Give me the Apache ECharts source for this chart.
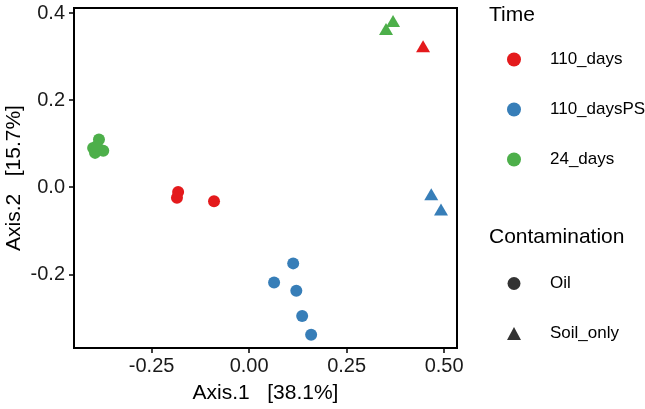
<!DOCTYPE html>
<html><head><meta charset="utf-8">
<script src="https://cdn.jsdelivr.net/npm/echarts@6/dist/echarts.min.js"></script>
<style>html,body{margin:0;padding:0;background:#fff}#c{width:645px;height:409px}</style>
</head><body><div id="c"></div>
<script>
// Points: [Axis.1, Axis.2]
const days110_oil = [[-0.182, -0.011], [-0.185, -0.024], [-0.090, -0.032]];
const days110_soil = [[0.446, 0.324]];
const days110PS_oil = [[0.113, -0.175], [0.064, -0.219], [0.121, -0.238], [0.136, -0.296], [0.159, -0.339]];
const days110PS_soil = [[0.467, -0.016], [0.492, -0.051]];
const days24_oil = [[-0.385, 0.110], [-0.400, 0.090], [-0.374, 0.084], [-0.395, 0.079], [-0.390, 0.095]];
const days24_soil = [[0.369, 0.382], [0.351, 0.364]];
const timeNames = ['110_days', '110_daysPS', '24_days'];
const contamNames = ['Oil', 'Soil_only'];
const xTicks = [-0.25, 0, 0.25, 0.5];
const yTicks = [-0.2, 0, 0.2, 0.4];
const xTitle = 'Axis.1   [38.1%]';
const yTitle = 'Axis.2   [15.7%]';

const colors = ['#E41A1C', '#377EB8', '#4DAF4A'];
const groups = [[days110_oil, days110_soil], [days110PS_oil, days110PS_soil], [days24_oil, days24_soil]];
const triSize = [14, 12];
const circSize = 12;

function mk(oil, soil) {
  return oil.map(p => ({ value: p, symbol: 'circle', symbolSize: circSize }))
    .concat(soil.map(p => ({ value: p, symbol: 'triangle', symbolSize: triSize })));
}

const series = timeNames.map((n, i) => ({
  name: n, type: 'scatter', symbol: 'circle', symbolSize: circSize,
  itemStyle: { color: colors[i], opacity: 1 },
  data: mk(groups[i][0], groups[i][1]), z: 3
}));
series.push({ name: contamNames[0], type: 'scatter', symbol: 'circle', symbolSize: 11, itemStyle: { color: '#000' }, data: [] });
series.push({ name: contamNames[1], type: 'scatter', symbol: 'triangle', symbolSize: 14, itemStyle: { color: '#000' }, data: [] });

const font = 'Arial, "Liberation Sans", sans-serif';
const chart = echarts.init(document.getElementById('c'), null, { renderer: 'canvas' });
chart.setOption({
  animation: false,
  backgroundColor: '#fff',
  textStyle: { fontFamily: font },
  title: [
    { text: 'Time', left: 484, top: 0, textStyle: { fontSize: 21, fontWeight: 'normal', color: '#000', fontFamily: font } },
    { text: 'Contamination', left: 484, top: 222, textStyle: { fontSize: 21, fontWeight: 'normal', color: '#000', fontFamily: font } }
  ],
  legend: [
    { data: timeNames.map(n => ({ name: n, icon: 'circle' })), orient: 'vertical', left: 502, top: 46,
      itemWidth: 14, itemHeight: 14, itemGap: 33,
      textStyle: { fontSize: 17, color: '#000', fontFamily: font, padding: [0, 0, 0, 24] } },
    { data: [{ name: contamNames[0], icon: 'circle' }, { name: contamNames[1], icon: 'triangle' }], orient: 'vertical', left: 502, top: 270,
      itemWidth: 14, itemHeight: 13, itemGap: 33,
      textStyle: { fontSize: 17, color: '#000', fontFamily: font, padding: [0, 0, 0, 24] } }
  ],
  grid: { left: 74, right: 188, top: 8, bottom: 61, show: true, borderColor: '#000', borderWidth: 2, containLabel: false, outerBoundsMode: 'none' },
  xAxis: {
    type: 'value', min: -0.449, max: 0.533,
    name: xTitle, nameLocation: 'middle', nameGap: 35, nameMoveOverlap: false,
    nameTextStyle: { fontSize: 21, color: '#000', fontFamily: font },
    axisLine: { show: false, onZero: false }, splitLine: { show: false },
    axisTick: { show: true, inside: false, length: 5, lineStyle: { color: '#000', width: 1.5 }, customValues: xTicks },
    axisLabel: { fontSize: 20, color: '#1a1a1a', margin: 8, customValues: xTicks, formatter: v => v.toFixed(2) }
  },
  yAxis: {
    type: 'value', min: -0.3695, max: 0.412,
    name: yTitle, nameLocation: 'middle', nameGap: 49, nameMoveOverlap: false,
    nameTextStyle: { fontSize: 21, color: '#000', fontFamily: font },
    axisLine: { show: false, onZero: false }, splitLine: { show: false },
    axisTick: { show: true, inside: false, length: 5, lineStyle: { color: '#000', width: 1.5 }, customValues: yTicks },
    axisLabel: { fontSize: 20, color: '#1a1a1a', margin: 9, customValues: yTicks, formatter: v => v.toFixed(1) }
  },
  series: series
});
</script></body></html>
